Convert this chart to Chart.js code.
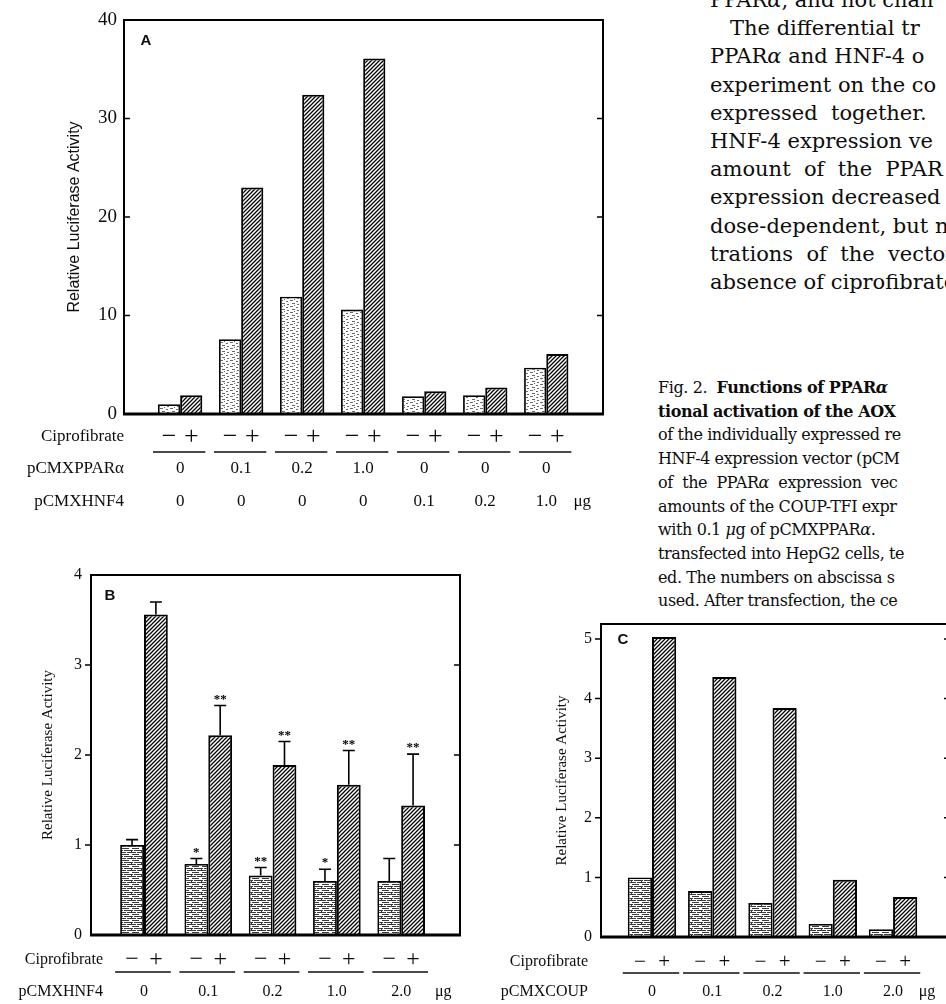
<!DOCTYPE html>
<html>
<head>
<meta charset="utf-8">
<script src="https://cdn.jsdelivr.net/npm/chart.js@4.4.1/dist/chart.umd.min.js"></script>
<style>
  html, body { margin: 0; padding: 0; background: #fff; }
  body { position: relative; width: 946px; height: 1004px; overflow: hidden; }
  canvas { position: absolute; }
  .txt { position: absolute; white-space: pre; font-family: "DejaVu Serif", serif; color: #0d0d0d; }
  #para { left: 710px; top: -14px; font-size: 21px; line-height: 28.2px; }
  #caption { left: 658px; top: 376px; font-size: 16px; line-height: 23.7px; letter-spacing: -0.4px; }
</style>
</head>
<body>

<div id="para" class="txt">PPAR<i>α</i>, and not chan
   The differential tr
PPAR<i>α</i> and HNF-4 o
experiment on the co
expressed  together.
HNF-4 expression ve
amount  of  the  PPAR
expression decreased
dose-dependent, but n
trations  of  the  vector
absence of ciprofibrate</div>

<div id="caption" class="txt">Fig. 2.  <b>Functions of PPAR<i>α</i></b>
<b>tional activation of the AOX</b>
of the individually expressed re
HNF-4 expression vector (pCM
of  the  PPAR<i>α</i>  expression  vec
amounts of the COUP-TFI expr
with 0.1 <i>μ</i>g of pCMXPPAR<i>α</i>.
transfected into HepG2 cells, te
ed. The numbers on abscissa s
used. After transfection, the ce</div>

<canvas id="chartA" width="620" height="520" style="left:0;top:0"></canvas>
<canvas id="chartB" width="480" height="464" style="left:0;top:540px"></canvas>
<canvas id="chartC" width="480" height="404" style="left:480px;top:600px"></canvas>

<script>
  // ---- panel A: PPARα / HNF-4 given separately
  const pparA = ['0', '0.1', '0.2', '1.0', '0', '0', '0']
  const hnfA = ['0', '0', '0', '0', '0.1', '0.2', '1.0']
  const minusA = [1.0, 7.6, 11.9, 10.6, 1.8, 1.9, 4.7]
  const plusA = [1.9, 23.0, 32.4, 36.1, 2.3, 2.7, 6.1]
  const yTicksA = [0, 10, 20, 30, 40]

  // ---- panel B: HNF-4 titration, mean + SD
  const hnfB = ['0', '0.1', '0.2', '1.0', '2.0']
  const minusB = [1.0, 0.79, 0.66, 0.60, 0.60]
  const plusB = [3.56, 2.22, 1.89, 1.67, 1.44]
  const minusSdB = [0.06, 0.06, 0.09, 0.13, 0.25]
  const plusSdB = [0.14, 0.33, 0.26, 0.38, 0.57]
  const minusSigB = ['', '*', '**', '*', '']
  const plusSigB = ['', '**', '**', '**', '**']
  const yTicksB = [0, 1, 2, 3, 4]

  // ---- panel C: COUP-TFI titration
  const coupC = ['0', '0.1', '0.2', '1.0', '2.0']
  const minusC = [1.0, 0.77, 0.57, 0.22, 0.13]
  const plusC = [5.03, 4.36, 3.84, 0.96, 0.67]
  const yTicksC = [0, 1, 2, 3, 4, 5]

  const INK = '#0d0d0d'

  function hatchPattern() {
    const c = document.createElement('canvas')
    c.width = c.height = 4
    const g = c.getContext('2d')
    g.fillStyle = '#fff'
    g.fillRect(0, 0, 4, 4)
    g.strokeStyle = '#000'
    g.lineWidth = 1.25
    g.beginPath()
    g.moveTo(0, 4); g.lineTo(4, 0)
    g.moveTo(-1, 1); g.lineTo(1, -1)
    g.moveTo(3, 5); g.lineTo(5, 3)
    g.stroke()
    return g.createPattern(c, 'repeat')
  }

  // scanned screen tone of the "no drug" bars
  function stipplePattern(dense) {
    const c = document.createElement('canvas')
    c.width = 10
    c.height = 6
    const g = c.getContext('2d')
    g.fillStyle = '#fff'
    g.fillRect(0, 0, 10, 6)
    g.fillStyle = dense ? '#3a3a3a' : '#6a6a6a'
    if (dense) {
      g.fillRect(0, 0, 6, 1)
      g.fillRect(7, 0, 3, 1)
      g.fillRect(2, 2, 7, 1)
      g.fillRect(0, 4, 3, 1)
      g.fillRect(4, 4, 6, 1)
      g.fillRect(1, 5, 1, 1)
    } else {
      g.fillRect(0, 0, 3, 1)
      g.fillRect(6, 1, 2, 1)
      g.fillRect(2, 3, 3, 1)
      g.fillRect(7, 4, 2, 1)
      g.fillRect(4, 5, 1, 1)
    }
    return g.createPattern(c, 'repeat')
  }

  const hatch = hatchPattern()

  // box around the plot, tick marks, panel letter
  const framePlugin = {
    id: 'frame',
    afterDraw(chart, args, o) {
      const { ctx, chartArea: a, scales: { y } } = chart
      ctx.save()
      ctx.strokeStyle = '#000'
      ctx.lineWidth = 2
      ctx.strokeRect(a.left, a.top, a.right - a.left, a.bottom - a.top)
      ctx.lineWidth = 3
      ctx.beginPath()
      ctx.moveTo(a.left - 1, a.bottom)
      ctx.lineTo(a.right + 1, a.bottom)
      ctx.stroke()
      ctx.lineWidth = 1.5
      y.ticks.forEach(t => {
        if (t.value <= y.min || t.value >= y.max) return
        const py = y.getPixelForValue(t.value)
        ctx.beginPath()
        ctx.moveTo(a.left + o.leftTick, py)
        ctx.lineTo(a.left, py)
        ctx.moveTo(a.right - 6, py)
        ctx.lineTo(a.right, py)
        ctx.stroke()
      })
      ctx.fillStyle = INK
      ctx.font = 'bold 15px "Liberation Sans"'
      ctx.textAlign = 'center'
      ctx.textBaseline = 'middle'
      ctx.fillText(o.letter, a.left + o.letterDx, a.top + o.letterDy)
      ctx.restore()
    }
  }

  // Ciprofibrate -/+ row, underlines and plasmid amount rows under the axis
  const rowsPlugin = {
    id: 'rows',
    afterDraw(chart, args, o) {
      const { ctx, chartArea: a } = chart
      const m0 = chart.getDatasetMeta(0).data
      const m1 = chart.getDatasetMeta(1).data
      const lx = a.left + o.labelDx
      ctx.save()
      ctx.fillStyle = INK
      ctx.strokeStyle = INK
      ctx.textBaseline = 'middle'
      ctx.font = o.font
      ctx.textAlign = 'right'
      ctx.fillText('Ciprofibrate', lx, a.bottom + o.signY)
      o.rows.forEach(r => ctx.fillText(r.title, lx, a.bottom + r.dy))
      ctx.textAlign = 'center'
      m0.forEach((b0, i) => {
        const b1 = m1[i]
        ctx.font = o.signFont
        ctx.fillText('\u2212', b0.x, a.bottom + o.signY)
        ctx.fillText('+', b1.x, a.bottom + o.signY)
        ctx.lineWidth = 1.6
        ctx.beginPath()
        ctx.moveTo(b0.x - b0.width / 2 - 5, a.bottom + o.lineY)
        ctx.lineTo(b1.x + b1.width / 2 + 3, a.bottom + o.lineY)
        ctx.stroke()
        ctx.font = o.font
        const cx = (b0.x + b1.x) / 2
        o.rows.forEach(r => ctx.fillText(r.values[i], cx, a.bottom + r.dy))
      })
      const n = m0.length - 1
      const lastRow = o.rows[o.rows.length - 1]
      ctx.fillText('\u03bcg', (m0[n].x + m1[n].x) / 2 + o.unitDx, a.bottom + lastRow.dy)
      ctx.restore()
    }
  }

  // SD bars with significance stars
  const errPlugin = {
    id: 'err',
    afterDatasetsDraw(chart, args, o) {
      if (!o.sd) return
      const { ctx, scales: { y } } = chart
      ctx.save()
      ctx.strokeStyle = '#000'
      ctx.fillStyle = '#000'
      ctx.lineWidth = 1.6
      ctx.font = 'bold 13px "Liberation Serif"'
      ctx.textAlign = 'center'
      ctx.textBaseline = 'alphabetic'
      o.sd.forEach((arr, d) => {
        const meta = chart.getDatasetMeta(d)
        const vals = chart.data.datasets[d].data
        arr.forEach((s, i) => {
          const el = meta.data[i]
          const top = y.getPixelForValue(vals[i].y + s)
          ctx.beginPath()
          ctx.moveTo(el.x, el.y)
          ctx.lineTo(el.x, top)
          ctx.moveTo(el.x - 6, top)
          ctx.lineTo(el.x + 6, top)
          ctx.stroke()
          if (o.stars[d][i]) ctx.fillText(o.stars[d][i], el.x, top - 3)
        })
      })
      ctx.restore()
    }
  }

  function makePanel(id, p) {
    const toXY = arr => arr.map((v, i) => ({ x: i, y: v }))
    return new Chart(document.getElementById(id), {
      type: 'bar',
      data: {
        datasets: [{
          data: toXY(p.minus),
          backgroundColor: p.stipple,
          borderColor: '#000',
          borderWidth: 1.8
        }, {
          data: toXY(p.plus),
          backgroundColor: hatch,
          borderColor: '#000',
          borderWidth: 2
        }]
      },
      options: {
        responsive: false,
        animation: false,
        events: [],
        categoryPercentage: p.catPct,
        barPercentage: 1,
        layout: { padding: p.pad },
        scales: {
          x: { type: 'linear', display: false, min: p.xMin, max: p.xMax, offset: false },
          y: {
            min: 0,
            max: p.yMax,
            afterBuildTicks: s => { s.ticks = p.yTicks.map(v => ({ value: v })) },
            afterFit: s => { s.width = p.axisW; s.paddingTop = 0; s.paddingBottom = 0 },
            grid: { display: false, drawTicks: false },
            border: { display: false },
            ticks: { padding: p.tickPad, color: INK, font: { family: 'Liberation Serif', size: p.tickSize } },
            title: {
              display: true,
              text: 'Relative Luciferase Activity',
              color: INK,
              font: p.titleFont,
              padding: { top: p.titleTop, bottom: 0 }
            }
          }
        },
        plugins: {
          legend: { display: false },
          tooltip: { enabled: false },
          frame: p.frame,
          rows: p.rows,
          err: p.err || {}
        }
      },
      plugins: [framePlugin, rowsPlugin, errPlugin]
    })
  }

  makePanel('chartA', {
    minus: minusA, plus: plusA, stipple: stipplePattern(false),
    catPct: 0.79, xMin: -0.92, xMax: 6.93,
    yMax: 40, yTicks: yTicksA,
    pad: { left: 0, top: 20, right: 17, bottom: 106 },
    axisW: 124, tickPad: 7, tickSize: 19,
    titleFont: { family: 'Liberation Sans', size: 16 }, titleTop: 65,
    frame: { letter: 'A', letterDx: 22, letterDy: 21, leftTick: 6 },
    rows: {
      labelDx: 0, font: '17px "Liberation Serif"', signFont: '26px "Liberation Serif"',
      signY: 23, lineY: 38, unitDx: 36,
      rows: [{ title: 'pCMXPPAR\u03b1', values: pparA, dy: 55 }, { title: 'pCMXHNF4', values: hnfA, dy: 88 }]
    }
  })

  makePanel('chartB', {
    minus: minusB, plus: plusB, stipple: stipplePattern(true),
    catPct: 0.81, xMin: -0.824, xMax: 4.915,
    yMax: 4, yTicks: yTicksB,
    pad: { left: 0, top: 35, right: 20, bottom: 69 },
    axisW: 91, tickPad: 9, tickSize: 16,
    titleFont: { family: 'Liberation Serif', size: 15 }, titleTop: 39,
    frame: { letter: 'B', letterDx: 19, letterDy: 21, leftTick: -6 },
    rows: {
      labelDx: 12, font: '16px "Liberation Serif"', signFont: '24px "Liberation Serif"',
      signY: 25, lineY: 37, unitDx: 42,
      rows: [{ title: 'pCMXHNF4', values: hnfB, dy: 57 }]
    },
    err: { sd: [minusSdB, plusSdB], stars: [minusSigB, plusSigB] }
  })

  makePanel('chartC', {
    minus: minusC, plus: plusC, stipple: stipplePattern(true),
    catPct: 0.85, xMin: -0.846, xMax: 4.945,
    yMax: 5.25, yTicks: yTicksC,
    pad: { left: 0, top: 24, right: 10, bottom: 67 },
    axisW: 121, tickPad: 9, tickSize: 16,
    titleFont: { family: 'Liberation Serif', size: 15 }, titleTop: 73,
    frame: { letter: 'C', letterDx: 22, letterDy: 16, leftTick: -6 },
    rows: {
      labelDx: -13, font: '16px "Liberation Serif"', signFont: '21px "Liberation Serif"',
      signY: 25, lineY: 36, unitDx: 34,
      rows: [{ title: 'pCMXCOUP', values: coupC, dy: 55 }]
    }
  })
</script>
</body>
</html>
